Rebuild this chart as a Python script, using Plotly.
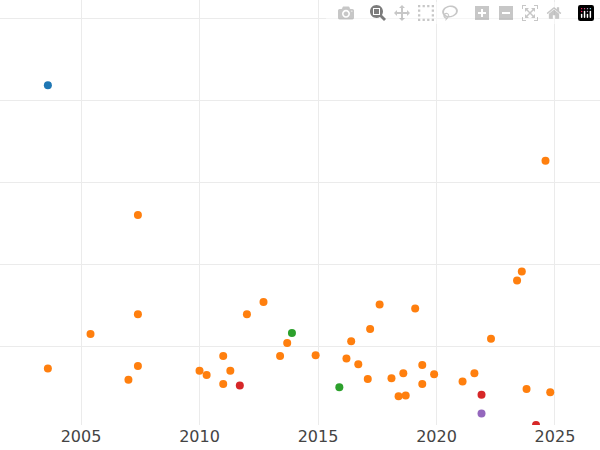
import plotly.graph_objects as go

blue_x = [2003.6]; blue_y = [4.18]
orange_x = [2024.6, 2007.4, 2023.6, 2023.4, 2012.7, 2017.6, 2019.1, 2007.4, 2012.0, 2005.4, 2017.2, 2022.3,
            2016.4, 2013.7, 2003.6, 2007.4, 2007.0, 2010.0, 2010.3, 2011.0, 2011.3, 2011.0, 2013.4, 2014.9,
            2016.2, 2016.7, 2017.1, 2018.1, 2018.6, 2019.4, 2019.9, 2019.4, 2018.4, 2018.7, 2021.1, 2021.6,
            2023.8, 2024.8]
orange_y = [3.26, 2.60, 1.91, 1.80, 1.54, 1.51, 1.46, 1.39, 1.39, 1.15, 1.21, 1.09,
            1.06, 1.04, 0.73, 0.76, 0.59, 0.70, 0.65, 0.88, 0.70, 0.54, 0.88, 0.89,
            0.85, 0.78, 0.60, 0.61, 0.67, 0.77, 0.66, 0.54, 0.39, 0.40, 0.57, 0.67,
            0.48, 0.44]
green_x = [2013.9, 2015.9]; green_y = [1.16, 0.50]
red_x = [2011.7, 2021.9, 2024.2]; red_y = [0.52, 0.41, 0.04]
purple_x = [2021.9]; purple_y = [0.18]

fig = go.Figure()
for xs, ys, c in [(blue_x, blue_y, "#1f77b4"), (orange_x, orange_y, "#ff7f0e"),
                  (green_x, green_y, "#2ca02c"), (red_x, red_y, "#d62728"),
                  (purple_x, purple_y, "#9467bd")]:
    fig.add_trace(go.Scatter(x=xs, y=ys, mode="markers", marker=dict(color=c, size=8),
                             showlegend=False, cliponaxis=True))

fig.update_layout(width=600, height=450, margin=dict(l=0, r=0, t=0, b=25),
                  plot_bgcolor="white", paper_bgcolor="white",
                  font=dict(family="DejaVu Sans", size=16, color="#444"))
fig.update_xaxes(range=[2001.58, 2026.9], tickvals=[2005, 2010, 2015, 2020, 2025],
                 showgrid=True, gridcolor="#ebebeb", zeroline=False, ticks="")
fig.update_yaxes(range=[0.04, 5.22], tickvals=[1, 2, 3, 4, 5], showticklabels=False,
                 showgrid=True, gridcolor="#ebebeb", zeroline=False)
fig.write_html("out.html", post_script="document.body.style.margin='0';")
